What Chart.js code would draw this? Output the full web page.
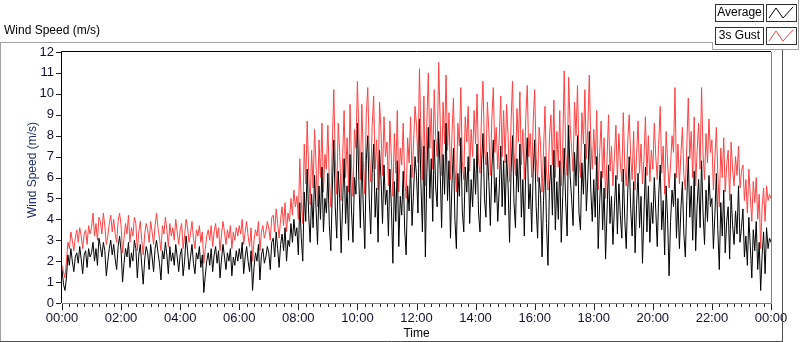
<!DOCTYPE html>
<html><head><meta charset="utf-8">
<script src="https://cdn.jsdelivr.net/npm/chart.js@4.4.0/dist/chart.umd.min.js"></script>
<style>html,body{margin:0;padding:0;background:#fff;overflow:hidden}#wrap{position:relative;width:800px;height:342px}</style>
</head><body><div id="wrap"><canvas id="c" width="800" height="342"></canvas></div>
<script>
// 3-minute samples, 00:00 .. 24:00 (20 per hour)
const avgValues = [
1.6,0.9,0.6,1.2,2.3,1.8,2.6,2.0,1.5,2.2,2.4,1.9,2.7,2.1,1.4,2.3,2.5,1.7,2.6,2.2,
2.4,2.9,2.0,2.6,1.8,3.1,2.7,2.2,2.9,2.5,1.3,2.0,2.6,3.0,2.3,2.8,2.1,1.6,2.7,3.2,
2.5,1.0,1.9,2.6,2.2,2.9,1.7,2.4,2.0,3.0,2.6,1.2,2.3,2.8,1.8,0.9,2.1,2.7,2.4,1.6,
2.8,2.2,1.5,2.6,3.0,2.4,1.9,1.1,2.5,2.1,2.9,2.3,1.4,2.7,2.0,2.4,1.8,2.8,2.2,1.5,
2.3,2.6,1.3,2.0,3.2,2.5,1.6,2.2,2.8,1.9,1.4,2.4,2.1,2.7,1.7,2.3,0.5,1.3,2.0,2.4,
1.8,2.6,1.5,2.3,2.7,1.9,2.5,1.2,2.1,2.8,2.2,1.6,2.4,2.0,2.6,1.3,2.2,1.8,2.5,2.0,
2.6,2.1,2.9,1.4,2.2,2.7,2.0,1.5,2.5,0.6,1.7,2.4,2.0,2.8,1.1,2.3,2.6,1.9,2.2,2.7,
2.4,1.6,2.9,3.1,2.2,3.4,2.6,1.7,2.8,3.3,2.5,3.6,2.0,3.0,2.7,3.8,2.9,4.0,3.2,3.6,
2.3,4.8,3.1,2.0,5.3,3.9,6.4,4.2,2.9,5.2,3.6,6.1,4.5,2.8,5.6,4.0,6.5,3.4,5.0,4.3,
6.2,3.7,2.5,5.4,7.8,4.6,3.1,6.3,5.0,2.4,4.8,6.9,3.8,5.6,3.0,7.1,4.4,2.9,6.0,5.2,
8.6,5.8,3.6,7.2,4.5,2.6,6.8,8.0,5.0,3.3,6.2,7.6,4.1,5.5,2.9,7.3,5.9,3.8,6.6,4.7,
5.4,3.2,6.4,4.6,1.9,5.8,3.9,6.8,2.7,5.1,4.2,6.3,3.5,2.3,5.6,4.4,6.6,3.7,5.3,7.0,
6.1,4.3,8.8,5.7,3.4,7.5,2.2,6.2,8.4,5.0,6.9,3.9,7.8,5.5,4.6,8.2,6.4,3.6,7.1,5.2,
8.6,4.9,6.8,3.1,5.7,7.4,4.0,2.6,6.2,5.1,7.9,4.4,3.4,6.5,5.3,7.0,3.8,5.9,4.6,6.9,
5.2,7.6,4.3,3.4,6.6,8.1,5.0,4.1,7.2,5.8,3.7,6.4,7.8,4.8,6.0,3.9,5.4,7.5,4.6,6.8,
4.2,7.1,5.6,2.9,6.2,8.0,4.8,3.6,6.9,5.3,7.6,4.1,5.9,3.2,6.5,7.9,4.5,5.7,3.4,6.3,
7.8,4.6,3.1,6.0,5.2,2.2,4.9,7.0,3.8,1.8,5.5,6.6,4.2,7.3,3.5,5.8,4.0,6.8,2.9,5.1,
7.4,4.8,3.2,8.5,6.1,5.0,3.7,7.2,5.6,8.0,4.3,3.5,6.7,5.2,7.6,4.4,6.0,8.2,5.4,3.9,
5.9,4.1,7.0,2.6,4.8,6.3,3.5,5.5,2.1,4.4,6.6,3.8,5.1,2.8,4.6,6.1,3.3,5.7,4.2,3.1,
6.4,4.0,2.6,5.3,7.0,4.5,3.2,5.8,2.4,4.7,6.2,3.6,5.1,1.9,4.3,6.5,3.4,5.6,2.9,4.8,
3.8,6.0,4.4,2.7,5.2,6.6,3.5,4.9,2.3,5.6,4.0,1.3,3.9,5.4,4.6,6.2,3.1,5.0,2.6,4.5,
5.8,3.3,2.2,4.9,7.0,4.1,5.6,3.0,6.3,2.5,4.7,5.9,3.6,6.8,4.3,2.8,5.4,3.9,6.1,4.6,
5.0,2.6,4.2,6.2,3.5,1.6,4.8,3.2,5.4,2.4,3.9,4.6,2.1,5.2,3.7,2.8,4.4,3.3,5.6,2.9,
3.6,4.5,2.2,3.2,1.8,4.1,2.7,1.2,3.5,2.5,3.9,1.6,2.9,0.6,2.3,3.4,1.4,3.6,2.6,3.1,
2.9];
const gustValues = [
1.8,1.5,1.2,2.0,2.9,2.6,3.4,3.0,2.5,3.1,3.5,2.9,3.6,3.2,2.6,3.3,3.5,2.8,3.7,3.3,
3.6,4.3,3.2,3.8,3.0,4.1,3.9,3.3,4.3,3.7,2.8,3.2,3.8,4.2,3.4,4.0,3.3,2.9,3.9,4.3,
3.7,2.4,3.1,3.8,3.3,4.2,2.9,3.6,3.2,4.1,3.8,2.5,3.4,3.9,3.0,2.3,3.3,3.8,3.5,2.9,
3.9,3.4,2.8,3.7,4.3,3.6,3.1,2.5,3.7,3.3,4.1,3.5,2.7,3.8,3.2,3.6,3.0,4.0,3.4,2.8,
3.5,3.8,2.6,3.2,4.0,3.6,2.9,3.3,3.9,3.1,2.6,3.5,3.2,3.7,2.9,3.4,1.9,2.6,3.2,3.5,
3.0,3.7,2.7,3.4,3.8,3.1,3.6,2.5,3.3,3.9,3.4,2.8,3.5,3.1,3.7,2.6,3.4,3.0,3.6,3.2,
3.7,3.3,4.0,2.8,3.4,3.9,3.2,2.7,3.6,2.0,3.0,3.5,3.2,3.9,2.5,3.4,3.7,3.1,3.4,3.9,
3.6,3.0,4.1,4.2,3.4,4.5,3.8,3.1,4.0,4.6,3.7,4.8,3.4,4.3,3.9,5.0,4.2,5.4,4.6,5.1,
4.0,6.9,4.8,3.8,7.6,5.7,8.7,6.3,4.7,7.3,5.5,8.3,6.6,4.6,7.8,6.0,8.6,5.3,7.1,6.4,
8.5,5.8,4.6,7.6,10.2,6.9,5.2,8.6,7.2,4.9,7.0,9.2,6.0,7.9,5.3,9.5,6.6,5.1,8.3,7.4,
10.6,8.1,5.9,9.5,6.8,5.2,9.0,10.3,7.3,5.8,8.5,9.9,6.4,7.8,5.4,9.6,8.2,6.1,8.9,7.0,
7.7,5.6,8.7,6.9,5.1,8.1,6.2,9.2,5.3,7.4,6.6,8.6,5.9,5.0,7.9,6.7,8.9,6.0,7.6,9.4,
8.5,6.7,11.2,8.1,5.9,9.9,5.6,8.6,11.0,7.4,9.3,6.4,10.2,7.9,7.0,11.5,8.8,6.1,9.6,7.6,
10.9,7.3,9.1,5.9,8.0,9.8,6.5,5.3,8.6,7.5,10.3,6.8,5.9,8.9,7.7,9.4,6.3,8.3,7.0,9.2,
7.6,10.0,6.8,6.2,9.0,10.6,7.4,6.6,9.6,8.2,6.1,8.8,10.3,7.2,8.4,6.4,7.8,9.9,7.0,9.2,
6.7,9.5,8.0,5.8,8.6,10.6,7.2,6.1,9.3,7.7,10.1,6.6,8.3,5.9,8.9,10.4,7.0,8.1,6.0,8.7,
10.2,7.0,5.8,8.4,7.6,5.3,7.3,9.4,6.3,5.4,7.9,9.0,6.6,9.7,6.0,8.2,6.5,9.2,5.6,7.5,
11.1,7.2,6.1,10.8,8.5,7.4,6.3,9.6,8.0,10.4,6.8,6.0,9.1,7.6,10.2,6.9,8.4,10.9,7.8,6.4,
8.3,6.6,9.2,5.4,7.2,8.7,6.0,7.9,5.0,6.9,9.0,6.3,7.5,5.6,7.0,8.5,5.9,8.1,6.7,5.8,
9.1,6.5,5.6,7.7,9.0,7.0,5.9,8.2,5.4,7.1,8.7,6.2,7.6,5.7,6.9,8.9,6.1,8.0,5.8,7.3,
6.4,8.6,7.0,5.9,7.7,9.4,6.2,7.5,5.2,8.2,6.7,5.5,6.6,8.0,7.2,10.3,6.0,7.6,5.7,7.1,
8.4,6.1,5.4,7.5,9.8,6.9,8.2,6.0,8.9,5.6,7.3,8.6,6.4,10.3,7.1,5.9,8.1,6.7,8.8,7.2,
7.8,5.4,6.9,8.4,6.2,4.6,7.4,6.0,7.9,5.3,6.6,7.3,4.9,7.7,6.4,5.6,7.0,6.1,7.5,5.5,
6.3,6.6,4.9,5.9,4.3,6.4,5.1,3.9,5.8,4.8,6.0,4.0,5.2,2.6,4.6,5.5,3.9,5.6,4.9,5.2,
5.0];
const sampleMinutes = 3;
const seriesNames = ['Average', '3s Gust'];
const seriesColors = ['#000000', '#ff4040'];
const xTickLabels = ['00:00','02:00','04:00','06:00','08:00','10:00','12:00','14:00','16:00','18:00','20:00','22:00','00:00'];
const yTickLabels = ['0','1','2','3','4','5','6','7','8','9','10','11','12'];
const chartTitle = 'Wind Speed (m/s)';
const yTitle = 'Wind Speed (m/s)';
const xTitle = 'Time';

const toPoints = arr => arr.map((v, i) => ({x: i * sampleMinutes, y: v}));
const LBL = '"Liberation Sans", Arial, sans-serif';
const NARROW = '"Liberation Sans Narrow", "Liberation Sans", Arial, sans-serif';

const decor = {
  id: 'decor',
  afterDraw(chart) {
    const ctx = chart.ctx, a = chart.chartArea;
    const xs = chart.scales.x, ys = chart.scales.y;
    ctx.save();
    ctx.lineWidth = 1;
    // outer panel
    ctx.strokeStyle = '#a0a0a0';
    ctx.beginPath();
    ctx.moveTo(0, 42.5); ctx.lineTo(712, 42.5);
    ctx.moveTo(0.5, 42); ctx.lineTo(0.5, 342);
    ctx.stroke();
    ctx.strokeStyle = '#505050';
    ctx.beginPath();
    ctx.moveTo(0, 341.5); ctx.lineTo(783, 341.5);
    ctx.moveTo(782.5, 49); ctx.lineTo(782.5, 342);
    ctx.stroke();
    // legend panel
    ctx.strokeStyle = '#a0a0a0';
    ctx.beginPath();
    ctx.moveTo(712.5, 42); ctx.lineTo(712.5, 49.5); ctx.lineTo(798.5, 49.5); ctx.lineTo(798.5, 0);
    ctx.stroke();
    // plot frame
    ctx.strokeStyle = '#000';
    ctx.beginPath();
    ctx.moveTo(a.left - 0.5, a.bottom); ctx.lineTo(a.left - 0.5, a.top - 0.5); ctx.lineTo(a.right, a.top - 0.5);
    ctx.stroke();
    ctx.strokeStyle = '#808080';
    ctx.beginPath();
    ctx.moveTo(a.left, a.bottom + 0.5); ctx.lineTo(a.right + 0.5, a.bottom + 0.5); ctx.lineTo(a.right + 0.5, a.top);
    ctx.stroke();
    // y ticks
    ctx.strokeStyle = '#202020';
    ctx.beginPath();
    yTickLabels.forEach((l, i) => {
      const y = Math.round(ys.getPixelForValue(i)) + 0.5;
      ctx.moveTo(a.left - 6, y); ctx.lineTo(a.left - 1, y);
    });
    ctx.stroke();
    // x ticks (major every 2h, minor every 15 min)
    ctx.beginPath();
    for (let m = 0; m <= 1440; m += 15) {
      const x = Math.round(xs.getPixelForValue(m)) + 0.5;
      const major = m % 120 === 0;
      ctx.moveTo(x, a.bottom + 1); ctx.lineTo(x, a.bottom + (major ? 7 : 4));
    }
    ctx.stroke();
    // titles
    ctx.fillStyle = '#000';
    ctx.font = '12px ' + LBL;
    ctx.textAlign = 'left'; ctx.textBaseline = 'middle';
    ctx.fillText(chartTitle, 4, 31);
    ctx.textAlign = 'center';
    ctx.fillText(xTitle, (a.left + a.right) / 2, 334);
    ctx.save();
    ctx.translate(33, 170); ctx.rotate(-Math.PI / 2);
    ctx.fillStyle = '#1f2f6f';
    ctx.fillText(yTitle, 0, 0);
    ctx.restore();
    // legend
    const rows = [4, 27];
    seriesNames.forEach((name, i) => {
      const top = rows[i];
      ctx.fillStyle = '#fff';
      ctx.fillRect(715, top, 48, 17);
      ctx.fillRect(766, top, 30, 17);
      ctx.strokeStyle = '#303030';
      ctx.strokeRect(715.5, top + 0.5, 48, 17);
      ctx.strokeRect(766.5, top + 0.5, 30, 17);
      ctx.fillStyle = '#000';
      ctx.textAlign = 'center';
      ctx.fillText(name, 739.5, top + 9);
      ctx.strokeStyle = seriesColors[i];
      ctx.beginPath();
      ctx.moveTo(769, top + 14); ctx.lineTo(776, top + 4); ctx.lineTo(783, top + 14); ctx.lineTo(793, top + 3);
      ctx.stroke();
    });
    ctx.restore();
  }
};

new Chart(document.getElementById('c'), {
  type: 'line',
  data: {
    datasets: [
      {label: seriesNames[0], data: toPoints(avgValues), borderColor: seriesColors[0], borderWidth: 1, pointRadius: 0, tension: 0},
      {label: seriesNames[1], data: toPoints(gustValues), borderColor: seriesColors[1], borderWidth: 1, pointRadius: 0, tension: 0}
    ]
  },
  options: {
    responsive: false, animation: false, devicePixelRatio: 1,
    layout: {padding: {left: 0, top: 52, right: 29, bottom: 0}},
    plugins: {legend: {display: false}, tooltip: {enabled: false}},
    scales: {
      x: {
        type: 'linear', min: 0, max: 1440,
        afterFit(s) { s.height = 39; },
        afterBuildTicks(s) { s.ticks = xTickLabels.map((l, i) => ({value: i * 120})); },
        grid: {display: false, drawTicks: false}, border: {display: false},
        ticks: {autoSkip: false, maxRotation: 0, padding: 8, color: '#101030',
          font: {family: NARROW, size: 13}, callback: (v, i) => xTickLabels[i]}
      },
      y: {
        min: 0, max: 12,
        afterFit(s) { s.width = 62; },
        afterBuildTicks(s) { s.ticks = yTickLabels.map((l, i) => ({value: i})); },
        grid: {display: false, drawTicks: false}, border: {display: false},
        ticks: {padding: 8, color: '#101030',
          font: {family: NARROW, size: 13}, callback: (v, i) => yTickLabels[i]}
      }
    }
  },
  plugins: [decor]
});
</script></body></html>
